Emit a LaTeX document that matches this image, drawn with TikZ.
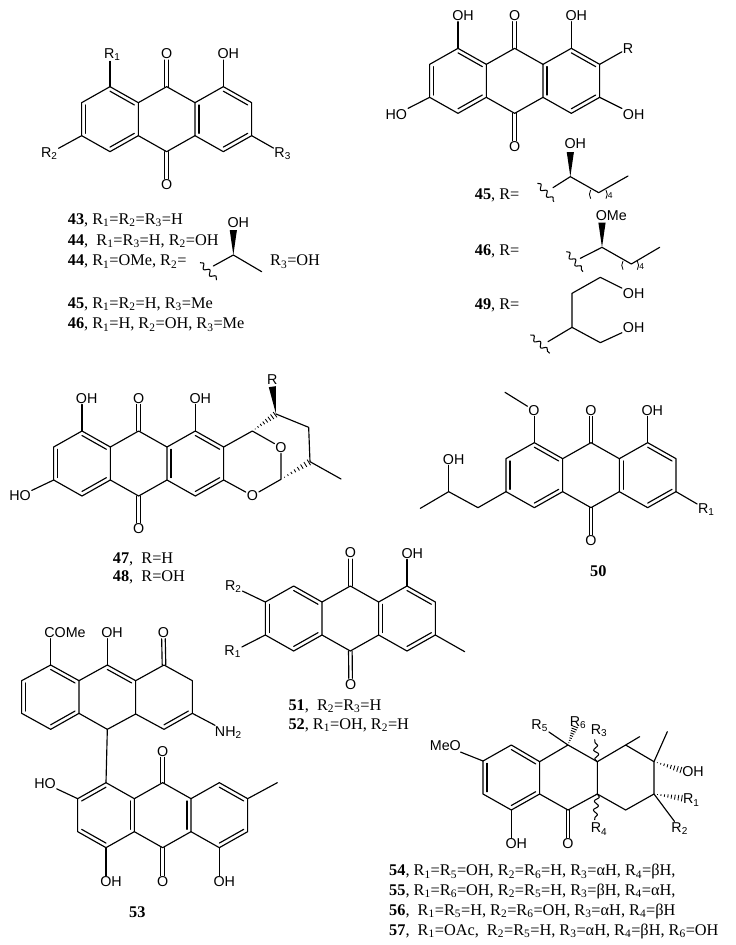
\documentclass[tikz,border=0pt]{standalone}
\usepackage{fontspec}
\setmainfont{Liberation Serif}
\setsansfont{Liberation Sans}
\usetikzlibrary{calc,decorations.pathmorphing}
\newcommand\Rs[1]{R\textsubscript{#1}}
\newcommand\Nb[1]{\textbf{#1}}
\tikzset{
  bond/.style={line width=1.15pt,line cap=round,line join=round},
  thin bond/.style={line width=.8pt},
  lbl/.style={font=\sffamily\fontsize{14.3}{16}\selectfont,inner sep=.8pt},
  captxt/.style={font=\rmfamily\fontsize{16.3}{18}\selectfont,anchor=base west,inner sep=0pt},
  numtxt/.style={font=\rmfamily\bfseries\fontsize{16.3}{18}\selectfont,inner sep=0pt},
  wavy/.style={line width=1.05pt,line join=round,decorate,decoration={snake,segment length=9pt,amplitude=2.3pt}},
  zoomat/.style 2 args={shift={(#1,#2)},x=.33333pt,y=-.33333pt}
}
% skeleton atoms in zoom units, a7 = top central carbon
\newcommand\skel[2]{%
  \coordinate (a7) at (#1,#2);
  \coordinate (a1) at (#1-170,#2);
  \coordinate (a2) at (#1-255,#2+48);
  \coordinate (a3) at (#1-255,#2+147);
  \coordinate (a4) at (#1-170,#2+195);
  \coordinate (a5) at (#1-85,#2+147);
  \coordinate (a6) at (#1-85,#2+48);
  \coordinate (a8) at (#1+85,#2+48);
  \coordinate (a9) at (#1+85,#2+147);
  \coordinate (a10) at (#1,#2+195);
  \coordinate (a11) at (#1+170,#2);
  \coordinate (a12) at (#1+255,#2+48);
  \coordinate (a13) at (#1+255,#2+147);
  \coordinate (a14) at (#1+170,#2+195);
  \coordinate (cL) at (#1-170,#2+97);
  \coordinate (cM) at (#1,#2+97);
  \coordinate (cR) at (#1+170,#2+97);
  \draw[bond] (a1)--(a2)--(a3)--(a4)--(a5)--(a6)--cycle;
  \draw[bond] (a6)--(a7)--(a8)--(a9)--(a10)--(a5);
  \draw[bond] (a8)--(a11)--(a12)--(a13)--(a14)--(a9);
}
\newcommand\dbl[3]{\draw[bond] ($(#1)!.14!(#3)$) -- ($(#2)!.14!(#3)$);}
\newcommand\stddbl{%
  \dbl{a1}{a6}{cL}\dbl{a2}{a3}{cL}\dbl{a4}{a5}{cL}%
  \dbl{a8}{a9}{cR}\dbl{a11}{a12}{cR}\dbl{a13}{a14}{cR}}
\newcommand\cdbl[2]{%
  \draw[bond,transform canvas={xshift=1.8pt}] (#1)--(#2);
  \draw[bond,transform canvas={xshift=-1.8pt}] (#1)--(#2);}
\newcommand\wedgebond[2]{\fill ($(#2)!3.6pt!90:(#1)$) -- ($(#2)!3.6pt!-90:(#1)$) -- (#1) -- cycle;}
\newcommand\hashbond[2]{\foreach \t in {.12,.24,...,.98}{\pgfmathsetmacro\hw{\t*3.4}%
  \draw[line width=.85pt] ($(#1)!\t!(#2)!\hw pt!90:(#2)$) -- ($(#1)!\t!(#2)!\hw pt!-90:(#2)$);}}
\newcommand\paren[3]{% x y side (+1 = right-hand paren)
  \draw[thin bond] (#1,#2-13) .. controls (#1+#3*5,#2-5) and (#1+#3*5,#2+5) .. (#1,#2+13);}
\begin{document}
\begin{tikzpicture}[x=1pt,y=-1pt]
\useasboundingbox (0,0) rectangle (736,945);
\fill[white] (0,0) rectangle (736,945);

% ---------- 43-46 ----------
\begin{scope}[zoomat={0}{0}]
\skel{500}{260}\stddbl
\node[lbl] (r1) at (337,163) {\Rs{1}};
\node[lbl] (ot) at (500,162) {O};
\node[lbl] (oh) at (685,162) {OH};
\node[lbl] (r2) at (148,460) {\Rs{2}};
\node[lbl] (r3) at (848,460) {\Rs{3}};
\node[lbl] (ob) at (500,555) {O};
\draw[bond] (a1)--(a1|-r1.south);
\draw[bond] (a11)--(a11|-oh.south);
\draw[bond] (a3)--(r2);
\draw[bond] (a13)--(r3);
\cdbl{a7}{ot}\cdbl{a10}{ob}
\node[captxt] (t43) at (203,672) {\Nb{43}, \Rs{1}=\Rs{2}=\Rs{3}=H};
\node[captxt] (t44a) at (203,735) {\Nb{44},\ \ \Rs{1}=\Rs{3}=H, \Rs{2}=OH};
\node[captxt] (t44b) at (203,797) {\Nb{44}, \Rs{1}=OMe, \Rs{2}=};
\node[captxt] (t44c) at (810,797) {\Rs{3}=OH};
\node[captxt] (t45) at (203,925) {\Nb{45}, \Rs{1}=\Rs{2}=H, \Rs{3}=Me};
\node[captxt] (t46) at (203,987) {\Nb{46}, \Rs{1}=H, \Rs{2}=OH, \Rs{3}=Me};
\node[lbl] (oh44) at (715,667) {OH};
\coordinate (v) at (700,765);
\coordinate (vw) at (700,690);
\coordinate (ve) at (785,815);
\coordinate (vl) at (640,798);
\coordinate (w1) at (600,788);
\coordinate (w2) at (650,840);
\wedgebond{v}{vw}
\draw[bond] (vl)--(v)--(ve);
\draw[wavy] (w1)--(w2);
\end{scope}

% ---------- top right anthraquinone ----------
\begin{scope}[zoomat={368}{0}]
\skel{440}{145}\stddbl
\node[lbl] (oh1) at (285,47) {OH};
\node[lbl] (ot) at (440,47) {O};
\node[lbl] (oh2) at (625,47) {OH};
\node[lbl] (rr) at (780,145) {R};
\node[lbl] (ho) at (85,343) {HO};
\node[lbl] (oh3) at (797,343) {OH};
\node[lbl] (ob) at (440,440) {O};
\draw[bond] (a1)--(a1|-oh1.south);
\draw[bond] (a11)--(a11|-oh2.south);
\draw[bond] (a12)--(rr);
\draw[bond] (a3)--(ho);
\draw[bond] (a13)--(oh3);
\cdbl{a7}{ot}\cdbl{a10}{ob}
% 45
\node[captxt] (t45r) at (320,597) {\Nb{45}, R=};
\node[lbl] (oh45) at (622,432) {OH};
\coordinate (v) at (607,530);
\coordinate (vw) at (607,456);
\coordinate (vl) at (555,563);
\coordinate (vb) at (692,578);
\coordinate (ve) at (780,528);
\coordinate (w1) at (508,550);
\coordinate (w2) at (558,605);
\wedgebond{v}{vw}
\draw[bond] (vl)--(v)--(vb)--(ve);
\draw[wavy] (w1)--(w2);
\paren{668}{583}{-1}\paren{714}{583}{1}
\node[lbl,font=\sffamily\fontsize{8.5}{9}\selectfont] (n45) at (727,587) {4};
% 46
\node[captxt] (t46r) at (320,765) {\Nb{46}, R=};
\node[lbl] (ome) at (730,647) {OMe};
\coordinate (v) at (702,742);
\coordinate (vw) at (702,668);
\coordinate (vl) at (637,775);
\coordinate (vb) at (790,792);
\coordinate (ve) at (875,742);
\coordinate (w1) at (595,755);
\coordinate (w2) at (645,815);
\wedgebond{v}{vw}
\draw[bond] (vl)--(v)--(vb)--(ve);
\draw[wavy] (w1)--(w2);
\paren{765}{796}{-1}\paren{808}{796}{1}
\node[lbl,font=\sffamily\fontsize{8.5}{9}\selectfont] (n46) at (821,800) {4};
% 49
\node[captxt] (t49r) at (320,930) {\Nb{49}, R=};
\node[lbl] (oh49a) at (797,882) {OH};
\node[lbl] (oh49b) at (797,982) {OH};
\coordinate (v) at (612,982);
\coordinate (v2) at (612,880);
\coordinate (v3) at (697,832);
\coordinate (v4) at (697,1028);
\coordinate (vl) at (540,1025);
\coordinate (w1) at (487,1005);
\coordinate (w2) at (545,1060);
\draw[bond] (vl)--(v)--(v2)--(v3)--(oh49a);
\draw[bond] (v)--(v4)--(oh49b);
\draw[wavy] (w1)--(w2);
\end{scope}

% ---------- 47, 48 ----------
\begin{scope}[zoomat={0}{350}]
\skel{416}{243}\stddbl
\node[lbl] (oh1) at (260,145) {OH};
\node[lbl] (ot) at (416,145) {O};
\node[lbl] (oh2) at (601,145) {OH};
\node[lbl] (ho) at (60,438) {HO};
\node[lbl] (ob) at (416,537) {O};
\node[lbl] (o3) at (843,292) {O};
\node[lbl] (o4) at (757,437) {O};
\node[lbl] (rr) at (817,88) {R};
\draw[bond] (a1)--(a1|-oh1.south);
\draw[bond] (a11)--(a11|-oh2.south);
\draw[bond] (a3)--(ho);
\cdbl{a7}{ot}\cdbl{a10}{ob}
\coordinate (b1) at (757,243);
\coordinate (b2) at (843,388);
\coordinate (b3) at (828,192);
\coordinate (b4) at (926,232);
\coordinate (b5) at (930,335);
\coordinate (b6) at (1023,387);
\coordinate (rw) at (817,110);
\draw[bond] (a12)--(b1)--(o3)--(b2)--(o4)--(a13);
\hashbond{b1}{b3}
\hashbond{b2}{b5}
\wedgebond{b3}{rw}
\draw[bond] (b3)--(b4)--(b5)--(b6);
\node[captxt] (t47) at (338,640) {\Nb{47},\ \ R=H};
\node[captxt] (t48) at (338,695) {\Nb{48},\ \ R=OH};
\end{scope}

% ---------- 50 ----------
\begin{scope}[zoomat={368}{350}]
\skel{669}{278}\stddbl
\node[lbl] (om) at (498,181) {O};
\node[lbl] (ot) at (669,181) {O};
\node[lbl] (oh) at (853,181) {OH};
\node[lbl] (r1) at (1015,478) {\Rs{1}};
\node[lbl] (ob) at (669,573) {O};
\node[lbl] (ohs) at (257,328) {OH};
\coordinate (me) at (411,127);
\coordinate (c1) at (330,473);
\coordinate (c2) at (242,425);
\coordinate (c3) at (157,475);
\draw[bond] (a1)--(a1|-om.south);
\draw[bond] (om)--(me);
\draw[bond] (a11)--(a11|-oh.south);
\draw[bond] (a13)--(r1);
\cdbl{a7}{ot}\cdbl{a10}{ob}
\draw[bond] (a3)--(c1)--(c2)--(c3);
\draw[bond] (c2)--(c2|-ohs.south);
\node[numtxt] (t50) at (691,663) {50};
\end{scope}

% ---------- 51, 52 and 53 ----------
\begin{scope}[zoomat={0}{590}]
\skel{1051}{-12}\stddbl
\node[lbl] (r2) at (700,-10) {\Rs{2}};
\node[lbl] (r1) at (698,185) {\Rs{1}};
\node[lbl] (ot) at (1051,-111) {O};
\node[lbl] (ob) at (1052,283) {O};
\node[lbl] (oh) at (1237,-110) {OH};
\coordinate (me) at (1394,185);
\draw[bond] (a2)--(r2);
\draw[bond] (a3)--(r1);
\draw[bond] (a11)--(a11|-oh.south);
\draw[bond] (a13)--(me);
\cdbl{a7}{ot}\cdbl{a10}{ob}
\node[captxt] (t51) at (865,360) {\Nb{51},\ \ \Rs{2}=\Rs{3}=H};
\node[captxt] (t52) at (865,417) {\Nb{52}, \Rs{1}=OH, \Rs{2}=H};

% 53 upper part
\coordinate (u1) at (152,225);
\coordinate (u2) at (65,272);
\coordinate (u3) at (65,370);
\coordinate (u4) at (152,418);
\coordinate (u5) at (237,370);
\coordinate (u6) at (237,272);
\coordinate (u7) at (322,225);
\coordinate (u8) at (407,272);
\coordinate (u9) at (407,372);
\coordinate (u10) at (322,418);
\coordinate (u11) at (492,225);
\coordinate (u12) at (577,272);
\coordinate (u13) at (577,370);
\coordinate (u14) at (492,418);
\coordinate (uL) at (152,321);
\coordinate (uM) at (322,321);
\coordinate (uR) at (492,321);
\draw[bond] (u1)--(u2)--(u3)--(u4)--(u5)--(u6)--cycle;
\draw[bond] (u6)--(u7)--(u8)--(u9)--(u10)--(u5);
\draw[bond] (u8)--(u11)--(u12)--(u13)--(u14)--(u9);
\dbl{u1}{u6}{uL}\dbl{u2}{u3}{uL}\dbl{u4}{u5}{uL}
\dbl{u7}{u8}{uM}\dbl{u13}{u14}{uR}
\node[lbl] (come) at (195,128) {COMe};
\node[lbl] (uoh) at (336,128) {OH};
\node[lbl] (uo) at (490,128) {O};
\node[lbl] (nh) at (685,427) {NH\textsubscript{2}};
\draw[bond] (u1)--(u1|-come.south);
\draw[bond] (u7)--(u7|-uoh.south);
\cdbl{u11}{uo}
\draw[bond] (u13)--(nh);
% 53 lower part
\skel{488}{578}
\dbl{a1}{a2}{cL}\dbl{a3}{a4}{cL}\dbl{a5}{a6}{cL}
\dbl{a8}{a9}{cM}\dbl{a11}{a12}{cR}\dbl{a13}{a14}{cR}
\draw[bond] (u10)--(a1);
\node[lbl] (ho) at (135,580) {HO};
\node[lbl] (oa) at (488,484) {O};
\node[lbl] (ob) at (488,875) {O};
\node[lbl] (oh1) at (333,875) {OH};
\node[lbl] (oh2) at (673,875) {OH};
\coordinate (me2) at (832,578);
\draw[bond] (a2)--(ho);
\draw[bond] (a12)--(me2);
\draw[bond] (a4)--(a4|-oh1.north);
\draw[bond] (a14)--(a14|-oh2.north);
\cdbl{a7}{oa}\cdbl{a10}{ob}
\node[numtxt] (t53) at (412,968) {53};
\end{scope}

% ---------- 54-57 ----------
\begin{scope}[zoomat={368}{590}]
\coordinate (k1) at (430,465);
\coordinate (k2) at (345,513);
\coordinate (k3) at (345,612);
\coordinate (k4) at (430,660);
\coordinate (k5) at (515,612);
\coordinate (k6) at (515,515);
\coordinate (k7) at (600,465);
\coordinate (k8) at (688,515);
\coordinate (k9) at (688,612);
\coordinate (k10) at (600,660);
\coordinate (k11) at (773,465);
\coordinate (k12) at (858,515);
\coordinate (k13) at (858,612);
\coordinate (k14) at (773,660);
\coordinate (kL) at (430,563);
\draw[bond] (k1)--(k2)--(k3)--(k4)--(k5)--(k6)--cycle;
\draw[bond] (k6)--(k7)--(k8)--(k9)--(k10)--(k5);
\draw[bond] (k8)--(k11)--(k12)--(k13)--(k14)--(k9);
\dbl{k1}{k6}{kL}\dbl{k2}{k3}{kL}\dbl{k4}{k5}{kL}
\node[lbl] (meo) at (232,468) {MeO};
\node[lbl] (oh1) at (445,762) {OH};
\node[lbl] (oc) at (600,762) {O};
\node[lbl] (r5) at (515,407) {\Rs{5}};
\node[lbl] (r6) at (630,397) {\Rs{6}};
\node[lbl] (r3) at (693,422) {\Rs{3}};
\node[lbl] (r4) at (693,717) {\Rs{4}};
\node[lbl] (oh2) at (975,545) {OH};
\node[lbl] (r1) at (970,630) {\Rs{1}};
\node[lbl] (r2) at (935,715) {\Rs{2}};
\coordinate (h6) at (622,408);
\coordinate (w3) at (680,448);
\coordinate (w4) at (680,690);
\coordinate (m1) at (815,440);
\coordinate (m2) at (898,425);
\coordinate (h1) at (942,541);
\coordinate (h2) at (945,625);
\draw[bond] (k2)--(meo);
\draw[bond] (k4)--(k4|-oh1.north);
\cdbl{k10}{oc}
\draw[bond] (k7)--(r5);
\hashbond{k7}{h6}
\draw[wavy] (k8)--(w3);
\draw[wavy] (k9)--(w4);
\draw[bond] (k11)--(m1);
\draw[bond] (k12)--(m2);
\hashbond{k12}{h1}
\hashbond{k13}{h2}
\draw[bond] (k13)--(r2);
\node[captxt] (t54) at (63,857) {\Nb{54}, \Rs{1}=\Rs{5}=OH, \Rs{2}=\Rs{6}=H, \Rs{3}=αH, \Rs{4}=βH,};
\node[captxt] (t55) at (63,915) {\Nb{55}, \Rs{1}=\Rs{6}=OH, \Rs{2}=\Rs{5}=H, \Rs{3}=βH, \Rs{4}=αH,};
\node[captxt] (t56) at (63,975) {\Nb{56},\ \ \Rs{1}=\Rs{5}=H, \Rs{2}=\Rs{6}=OH, \Rs{3}=αH, \Rs{4}=βH};
\node[captxt] (t57) at (63,1035) {\Nb{57},\ \ \Rs{1}=OAc,\ \ \Rs{2}=\Rs{5}=H, \Rs{3}=αH, \Rs{4}=βH, \Rs{6}=OH};
\end{scope}
\end{tikzpicture}
\end{document}
